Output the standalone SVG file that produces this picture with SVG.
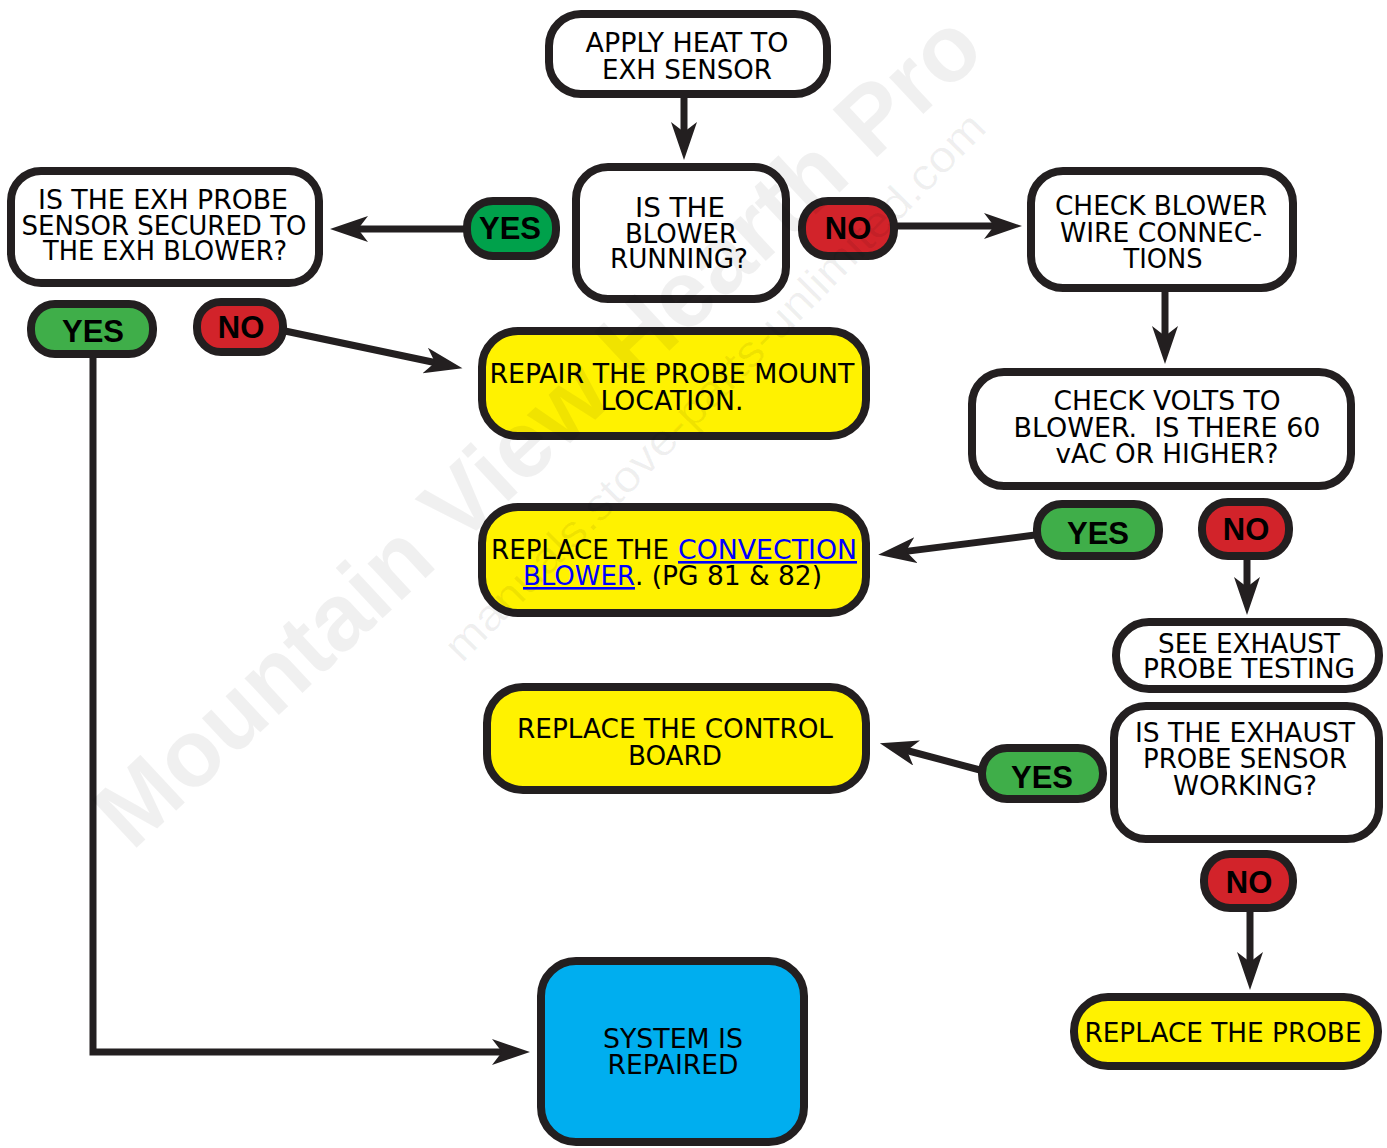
<svg xmlns="http://www.w3.org/2000/svg" width="1387" height="1148" viewBox="0 0 1387 1148">
<defs>
<style>
.box{stroke:#231f20;stroke-width:8}
.w{fill:#ffffff}
.y{fill:#fff200}
.c{fill:#00aeef}
.g1{fill:#00a14b}
.g2{fill:#3fae49}
.r{fill:#d2232a}
.t{font-family:"DejaVu Sans Condensed","DejaVu Sans",sans-serif;font-size:26px;fill:#000;text-anchor:middle}
.ts{font-family:"DejaVu Sans Condensed","DejaVu Sans",sans-serif;font-size:26px;fill:#000}
.lnk{fill:#0000ff;text-decoration:underline}
.b{font-family:"Liberation Sans",Arial,sans-serif;font-weight:bold;font-size:31px;fill:#000;text-anchor:middle}
.ln{fill:none;stroke:#231f20;stroke-width:7;marker-end:url(#ah)}
.wm{font-family:"Liberation Sans",Arial,sans-serif;fill:#000;fill-opacity:0.06}
</style>
<marker id="ah" markerUnits="userSpaceOnUse" markerWidth="40" markerHeight="28" viewBox="0 0 40 28" refX="12" refY="13" orient="auto">
<path d="M0,0 L38,13 L0,26 L10,13 Z" fill="#231f20"/>
</marker>
</defs>

<g id="connectors">
<line class="ln" x1="684" y1="98" x2="684" y2="134"/>
<line class="ln" x1="465" y1="229" x2="356" y2="229"/>
<line class="ln" x1="896" y1="226" x2="996" y2="226"/>
<line class="ln" x1="1165" y1="292" x2="1165" y2="338"/>
<line class="ln" x1="285" y1="331" x2="437" y2="363"/>
<line class="ln" x1="1035" y1="535" x2="904" y2="551.6"/>
<line class="ln" x1="1247" y1="558" x2="1247" y2="589"/>
<line class="ln" x1="980" y1="770" x2="905" y2="750"/>
<line class="ln" x1="1250" y1="910" x2="1250" y2="964"/>
<path class="ln" d="M93,357 V1052 H504" stroke-width="6"/>
</g>

<g id="n_apply">
<rect class="box w" x="549" y="14" width="278" height="80" rx="32"/>
<text class="t" x="687" y="52" textLength="203" lengthAdjust="spacingAndGlyphs">APPLY HEAT TO</text>
<text class="t" x="687" y="79" textLength="170" lengthAdjust="spacingAndGlyphs">EXH SENSOR</text>
</g>

<g id="n_blower">
<rect class="box w" x="576" y="167" width="210" height="132" rx="32"/>
<text class="t" x="680" y="217" textLength="90" lengthAdjust="spacingAndGlyphs">IS THE</text>
<text class="t" x="681" y="243" textLength="112" lengthAdjust="spacingAndGlyphs">BLOWER</text>
<text class="t" x="679" y="268" textLength="138" lengthAdjust="spacingAndGlyphs">RUNNING?</text>
</g>

<g id="n_secured">
<rect class="box w" x="11" y="171" width="308" height="112" rx="30"/>
<text class="t" x="163" y="209" textLength="250" lengthAdjust="spacingAndGlyphs">IS THE EXH PROBE</text>
<text class="t" x="164" y="235" textLength="285" lengthAdjust="spacingAndGlyphs">SENSOR SECURED TO</text>
<text class="t" x="165" y="260" textLength="244" lengthAdjust="spacingAndGlyphs">THE EXH BLOWER?</text>
</g>

<g id="n_checkwire">
<rect class="box w" x="1031" y="171" width="262" height="117" rx="32"/>
<text class="t" x="1161" y="215" textLength="212" lengthAdjust="spacingAndGlyphs">CHECK BLOWER</text>
<text class="t" x="1161" y="242" textLength="202" lengthAdjust="spacingAndGlyphs">WIRE CONNEC-</text>
<text class="t" x="1163" y="268" textLength="79" lengthAdjust="spacingAndGlyphs">TIONS</text>
</g>

<g id="n_volts">
<rect class="box w" x="972" y="372" width="379" height="114" rx="32"/>
<text class="t" x="1167" y="410" textLength="227" lengthAdjust="spacingAndGlyphs">CHECK VOLTS TO</text>
<text class="t" x="1167" y="437" textLength="307" lengthAdjust="spacingAndGlyphs" xml:space="preserve">BLOWER.  IS THERE 60</text>
<text class="t" x="1167" y="463" textLength="223" lengthAdjust="spacingAndGlyphs">vAC OR HIGHER?</text>
</g>

<g id="n_repair">
<rect class="box y" x="482" y="331" width="384" height="105" rx="36"/>
<text class="t" x="672" y="383" textLength="365" lengthAdjust="spacingAndGlyphs">REPAIR THE PROBE MOUNT</text>
<text class="t" x="672" y="410" textLength="143" lengthAdjust="spacingAndGlyphs">LOCATION.</text>
</g>

<g id="n_convection">
<rect class="box y" x="482" y="507" width="384" height="106" rx="36"/>
<text class="ts" x="491" y="559" textLength="178" lengthAdjust="spacingAndGlyphs">REPLACE THE</text>
<text class="ts lnk" x="678" y="559" textLength="179" lengthAdjust="spacingAndGlyphs">CONVECTION</text>
<text class="ts lnk" x="523" y="585" textLength="112" lengthAdjust="spacingAndGlyphs">BLOWER</text>
<text class="ts" x="635" y="585" textLength="187" lengthAdjust="spacingAndGlyphs">. (PG 81 &amp; 82)</text>
</g>

<g id="n_control">
<rect class="box y" x="487" y="687" width="379" height="103" rx="36"/>
<text class="t" x="675" y="738" textLength="316" lengthAdjust="spacingAndGlyphs">REPLACE THE CONTROL</text>
<text class="t" x="675" y="765" textLength="94" lengthAdjust="spacingAndGlyphs">BOARD</text>
</g>

<g id="n_seeexhaust">
<rect class="box w" x="1116" y="622" width="263" height="67" rx="33"/>
<text class="t" x="1249" y="653" textLength="182" lengthAdjust="spacingAndGlyphs">SEE EXHAUST</text>
<text class="t" x="1249" y="678" textLength="212" lengthAdjust="spacingAndGlyphs">PROBE TESTING</text>
</g>

<g id="n_working">
<rect class="box w" x="1114" y="706" width="265" height="133" rx="32"/>
<text class="t" x="1245" y="742" textLength="220" lengthAdjust="spacingAndGlyphs">IS THE EXHAUST</text>
<text class="t" x="1245" y="768" textLength="204" lengthAdjust="spacingAndGlyphs">PROBE SENSOR</text>
<text class="t" x="1245" y="795" textLength="144" lengthAdjust="spacingAndGlyphs">WORKING?</text>
</g>

<g id="n_probe">
<rect class="box y" x="1074" y="997" width="304" height="69" rx="34"/>
<text class="t" x="1223" y="1042" textLength="277" lengthAdjust="spacingAndGlyphs">REPLACE THE PROBE</text>
</g>

<g id="n_repaired">
<rect class="box c" x="541" y="961" width="263" height="181" rx="35"/>
<text class="t" x="673" y="1048" textLength="140" lengthAdjust="spacingAndGlyphs">SYSTEM IS</text>
<text class="t" x="673" y="1074" textLength="131" lengthAdjust="spacingAndGlyphs">REPAIRED</text>
</g>

<g id="b_yes1">
<rect class="box g1" x="467" y="201" width="89" height="55" rx="26"/>
<text class="b" x="510" y="239">YES</text>
</g>
<g id="b_no1">
<rect class="box r" x="802" y="201" width="92" height="55" rx="26"/>
<text class="b" x="848" y="239">NO</text>
</g>
<g id="b_yes2">
<rect class="box g2" x="31" y="304" width="122" height="50" rx="24"/>
<text class="b" x="93" y="342">YES</text>
</g>
<g id="b_no2">
<rect class="box r" x="197" y="302" width="86" height="50" rx="24"/>
<text class="b" x="241" y="338">NO</text>
</g>
<g id="b_yes3">
<rect class="box g2" x="1037" y="504" width="122" height="52" rx="25"/>
<text class="b" x="1098" y="544">YES</text>
</g>
<g id="b_no3">
<rect class="box r" x="1202" y="502" width="87" height="54" rx="26"/>
<text class="b" x="1246" y="540">NO</text>
</g>
<g id="b_yes4">
<rect class="box g2" x="982" y="748" width="121" height="51" rx="25"/>
<text class="b" x="1042" y="788">YES</text>
</g>
<g id="b_no4">
<rect class="box r" x="1204" y="854" width="89" height="54" rx="26"/>
<text class="b" x="1249" y="893">NO</text>
</g>

<g id="watermark">
<text class="wm" x="0" y="0" font-size="95" font-weight="bold" transform="translate(132,852) rotate(-43)" textLength="1170" lengthAdjust="spacingAndGlyphs">Mountain View Hearth Pro</text>
<text class="wm" x="0" y="0" font-size="44" transform="translate(462,664) rotate(-45.4)" textLength="750" lengthAdjust="spacingAndGlyphs">manuals.stove-parts-unlimited.com</text>
</g>
</svg>
